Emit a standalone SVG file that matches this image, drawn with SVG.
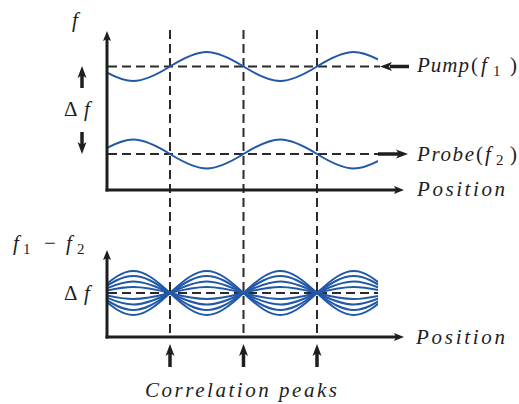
<svg xmlns="http://www.w3.org/2000/svg" xmlns:xlink="http://www.w3.org/1999/xlink" width="519" height="404" viewBox="0 0 519 404">
<style>
.t{font-family:"Liberation Serif","Times New Roman",serif;font-size:21px;fill:#1e1e1e}
.i{font-style:italic}
.ax{stroke:#1e1e1e;stroke-width:3;fill:none}
.sh{stroke:#1e1e1e;stroke-width:3.5;fill:none}
.hd{fill:#1e1e1e;stroke:none}
.dash{stroke:#2a2a2a;stroke-width:2;stroke-dasharray:9 5;fill:none}
.w{stroke:#2158a8;stroke-width:2;fill:none}
</style>
<defs>
<clipPath id="clip"><rect x="107" y="0" width="271" height="404"/></clipPath>
</defs>
<rect width="519" height="404" fill="#ffffff"/>

<g id="guides">
<line class="dash" x1="170" y1="30" x2="170" y2="337"/>
<line class="dash" x1="243.5" y1="30" x2="243.5" y2="337"/>
<line class="dash" x1="317" y1="30" x2="317" y2="337"/>
<line class="dash" x1="108" y1="66.5" x2="380" y2="66.5"/>
<line class="dash" x1="108" y1="154" x2="378" y2="154"/>
<line class="dash" x1="108" y1="293" x2="378" y2="293"/>
</g>

<g id="pump-wave" clip-path="url(#clip)">
<path class="w" d="M96.5,66.5 C127.7,85.83 138.8,85.83 170,66.5 C201.2,47.17 212.3,47.17 243.5,66.5 C274.7,85.83 285.8,85.83 317,66.5 C348.2,47.17 359.3,47.17 390.5,66.5"/>
</g>
<g id="probe-wave" clip-path="url(#clip)">
<path class="w" d="M96.5,154 C127.7,134.67 138.8,134.67 170,154 C201.2,173.33 212.3,173.33 243.5,154 C274.7,134.67 285.8,134.67 317,154 C348.2,173.33 359.3,173.33 390.5,154"/>
</g>
<g id="difference-waves" clip-path="url(#clip)">
<path id="d1" class="w" d="M96.5,293 C127.7,322.33 138.8,322.33 170,293 C201.2,263.67 212.3,263.67 243.5,293 C274.7,322.33 285.8,322.33 317,293 C348.2,263.67 359.3,263.67 390.5,293"/>
<path id="d2" class="w" d="M96.5,293 C127.7,315.67 138.8,315.67 170,293 C201.2,270.33 212.3,270.33 243.5,293 C274.7,315.67 285.8,315.67 317,293 C348.2,270.33 359.3,270.33 390.5,293"/>
<path id="d3" class="w" d="M96.5,293 C127.7,308.33 138.8,308.33 170,293 C201.2,277.67 212.3,277.67 243.5,293 C274.7,308.33 285.8,308.33 317,293 C348.2,277.67 359.3,277.67 390.5,293"/>
<path id="d4" class="w" d="M96.5,293 C127.7,301 138.8,301 170,293 C201.2,285 212.3,285 243.5,293 C274.7,301 285.8,301 317,293 C348.2,285 359.3,285 390.5,293"/>
<use xlink:href="#d1" transform="translate(0,586) scale(1,-1)"/>
<use xlink:href="#d2" transform="translate(0,586) scale(1,-1)"/>
<use xlink:href="#d3" transform="translate(0,586) scale(1,-1)"/>
<use xlink:href="#d4" transform="translate(0,586) scale(1,-1)"/>
</g>

<g id="connectors">
<line class="ax" x1="107" y1="191.5" x2="107" y2="39"/>
<polygon class="hd" points="107,31 103,41 107,39 111,41"/>
<line class="ax" x1="105.5" y1="190" x2="396" y2="190"/>
<polygon class="hd" points="404,190 394,186 396,190 394,194"/>
<line class="ax" x1="107" y1="338.5" x2="107" y2="258"/>
<polygon class="hd" points="107,250 103,260 107,258 111,260"/>
<line class="ax" x1="105.5" y1="337" x2="396" y2="337"/>
<polygon class="hd" points="404,337 394,333 396,337 394,341"/>
<line class="sh" x1="409" y1="66.5" x2="390" y2="66.5"/>
<polygon class="hd" points="380,66.5 392,62 389,66.5 392,71"/>
<line class="sh" x1="378" y1="154" x2="399" y2="154"/>
<polygon class="hd" points="408,154 396,149.5 399,154 396,158.5"/>
<line class="sh" x1="82" y1="88" x2="82" y2="75"/>
<polygon class="hd" points="82,66 77.5,78 82,75 86.5,78"/>
<line class="sh" x1="82" y1="132" x2="82" y2="145"/>
<polygon class="hd" points="82,154 77.5,142 82,145 86.5,142"/>
<line class="sh" x1="170" y1="367" x2="170" y2="353"/>
<polygon class="hd" points="170,344 165.5,356 170,353 174.5,356"/>
<line class="sh" x1="243.5" y1="367" x2="243.5" y2="353"/>
<polygon class="hd" points="243.5,344 239,356 243.5,353 248,356"/>
<line class="sh" x1="317" y1="367" x2="317" y2="353"/>
<polygon class="hd" points="317,344 312.5,356 317,353 321.5,356"/>
</g>

<g id="labels">
<text class="t i" x="72" y="27" font-size="24">f</text>
<text class="t" x="64" y="116" font-size="24">Δ<tspan class="i" x="84">f</tspan></text>
<text class="t" x="64" y="300" font-size="24">Δ<tspan class="i" x="84">f</tspan></text>
<text class="t" y="250" font-size="22"><tspan class="i" x="13">f</tspan><tspan x="23" y="254" font-size="15">1</tspan><tspan x="44" y="250">−</tspan><tspan class="i" x="66">f</tspan><tspan x="77" y="254" font-size="15">2</tspan></text>
<text class="t" y="72" font-size="22"><tspan class="i" x="417" textLength="52">Pump</tspan><tspan x="471">(</tspan><tspan class="i" x="481">f</tspan><tspan x="493" y="76" font-size="15">1</tspan><tspan x="510" y="72">)</tspan></text>
<text class="t" y="161" font-size="22"><tspan class="i" x="417" textLength="57">Probe</tspan><tspan x="476">(</tspan><tspan class="i" x="485">f</tspan><tspan x="496" y="165" font-size="15">2</tspan><tspan x="510" y="161">)</tspan></text>
<text class="t i" x="417" y="196" font-size="22" textLength="88">Position</text>
<text class="t i" x="416" y="344" font-size="22" textLength="89">Position</text>
<text class="t i" x="145" y="397" textLength="192">Correlation peaks</text>
</g>
</svg>
